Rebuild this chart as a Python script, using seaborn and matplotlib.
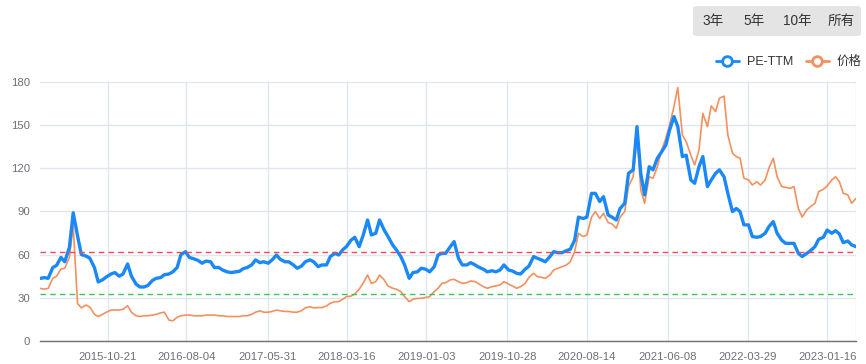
import matplotlib
matplotlib.use("Agg")
import matplotlib.pyplot as plt
from matplotlib.lines import Line2D
from matplotlib.patches import FancyBboxPatch
import seaborn as sns
import pandas as pd

# ---------------- data ----------------
dates = pd.date_range("2015-02-15", "2023-05-01", freq="SMS")

pe_ttm = [
    # 2015
    43.5, 44, 43.5, 51, 52.5, 58, 55, 65, 89, 73, 60, 59, 57.5, 51, 41, 42.5, 44.5, 46.5, 47.5, 45, 46.5,
    # 2016
    53.5, 45, 39.5, 37.5, 37.5, 38.5, 42, 43.5, 44, 46, 46.5, 48, 51, 60, 62, 58, 57, 56, 54, 55.5, 55, 51, 51, 49.3,
    # 2017
    48, 47.5, 48, 48.4, 50.2, 51, 52.8, 56.3, 54.4, 55, 54, 56.3, 59.7, 56.7, 55, 55, 52.8, 50.5, 52, 55, 56.3, 55, 51.6, 52.8,
    # 2018
    52.8, 58.6, 60.9, 59.7, 63.2, 65.5, 70, 72, 65.5, 73, 84, 73.6, 74.8, 84, 77, 72.5, 66.7, 63.2, 58.6, 52.8, 43.5, 47.5, 48, 50.5,
    # 2019
    49.8, 48, 51.6, 59.7, 60.9, 60.9, 65.5, 69, 57.4, 52.8, 52.8, 54.4, 52.8, 51.2, 49.8, 48, 48.8, 48, 49.3, 52.8, 49.3, 48.6, 47, 46.5,
    # 2020
    49.8, 52, 58.6, 57.4, 56.3, 55, 58.6, 62, 61.3, 61.3, 62.7, 63.7, 70, 86, 85, 86, 102.5, 102.5, 96.8, 100.2, 87.5, 86, 84, 92,
    # 2021
    95.6, 116.4, 118.8, 148.8, 116.4, 101.4, 121, 118.8, 126.9, 130.8, 136, 146.5, 155.8, 148.8, 128, 129, 111.8, 109.5, 121, 128, 107.2, 111.8, 116.4, 118.8,
    # 2022
    114, 102.5, 89.8, 92, 89.8, 80.6, 80.6, 72.5, 72, 72.5, 74.8, 79.4, 82.9, 74.8, 70, 67.8, 67.8, 67.8, 60.9, 58.6, 60.9, 62.7, 65.5, 70.6,
    # 2023
    72, 77, 74.8, 76.6, 74.3, 68.3, 69.4, 66.7, 65.5,
]

price = [
    # 2015
    36.5, 36, 36.5, 43.5, 45, 50, 50.5, 58, 80, 26, 23, 25, 23.5, 18.5, 17, 18.5, 20, 21.5, 21.5, 21.5, 22,
    # 2016
    24.5, 20, 17.5, 17, 17.5, 17.5, 18, 18.5, 19.5, 20, 14.5, 14, 16.5, 17.5, 18, 18, 17.5, 17.5, 17.5, 18, 18, 18, 17.5, 17.5,
    # 2017
    17, 17, 17, 17, 17.5, 17.5, 18.5, 20, 21, 20, 20, 20.5, 21.5, 21, 20.5, 20.5, 20, 20, 21, 23, 23.8, 23, 23.2, 23.2,
    # 2018
    24.3, 26.2, 27.3, 27.3, 28.9, 30.8, 31.2, 32.6, 35.9, 40, 45.8, 40, 41.2, 45.8, 42.4, 38.2, 36.6, 35.9, 34.3, 30.8, 27.3, 29, 29.6, 29.6,
    # 2019
    30.3, 30.8, 34.3, 36.6, 40, 40.5, 42.4, 42.8, 41.2, 40, 40.5, 41.7, 41.2, 39.6, 37.7, 36.6, 37.7, 38.2, 38.9, 41.2, 39.6, 38.2, 36.6, 37.7,
    # 2020
    40, 44.2, 47, 44.7, 44.2, 43.5, 45.8, 49.3, 50.5, 51.6, 52.8, 55, 62, 74.8, 72.5, 73.6, 86, 89.8, 85, 88.7, 82.2, 81.3, 78.2, 86,
    # 2021
    89.8, 107.2, 114, 143, 104.9, 95.6, 114, 113, 121, 131.5, 140.7, 150, 162.7, 176, 143, 138.4, 129, 122.2, 132.6, 158, 148.8, 163.2, 159.3, 168.5,
    # 2022
    170, 143, 130.3, 128, 126.9, 113, 111.8, 108.3, 110.6, 108.3, 111.8, 120, 126.9, 114, 107.2, 106.7, 106, 107.2, 92, 86, 91, 93.3, 95.6, 103.7,
    # 2023
    105.3, 107.6, 111.8, 114, 110.6, 102.5, 101.4, 95.6, 99,
]

tick_dates = ["2015-10-21", "2016-08-04", "2017-05-31", "2018-03-16", "2019-01-03",
              "2019-10-28", "2020-08-14", "2021-06-08", "2022-03-29", "2023-01-16"]
y_ticks = [0, 30, 60, 90, 120, 150, 180]
ref_high = 61.5
ref_low = 32.3
series_names = ["PE-TTM", "价格"]
range_buttons = ["3年", "5年", "10年", "所有"]

# ---------------- style ----------------
sns.set_theme(style="white")
plt.rcParams["font.family"] = ["Liberation Sans", "Noto Sans CJK SC", "DejaVu Sans"]

BLUE = "#1a88f7"
ORANGE = "#f2915f"
GRID = "#e0e6f1"
AXIS = "#6e7079"

W, H = 866, 364
fig = plt.figure(figsize=(W / 100, H / 100), dpi=100)
ax = fig.add_axes([40 / W, 23 / H, 816 / W, 259.3 / H])

df = pd.DataFrame({"date": dates, "pe": pe_ttm, "price": price})
sns.lineplot(data=df, x="date", y="price", ax=ax, color=ORANGE, linewidth=1.2, zorder=3)
sns.lineplot(data=df, x="date", y="pe", ax=ax, color=BLUE, linewidth=2.4, zorder=4)

ax.axhline(ref_high, color="#f5484f", linestyle=(0, (4, 3)), linewidth=1.0, zorder=5)
ax.axhline(ref_low, color="#3cc45a", linestyle=(0, (4, 3)), linewidth=1.0, zorder=5)

x_start = pd.Timestamp("2015-02-13")
x_end = pd.Timestamp("2023-05-01")
ax.set_xlim(x_start, x_end)
ax.set_ylim(0, 180)

tick_pos = [pd.Timestamp(d) for d in tick_dates] + [x_end]
ax.set_xticks(tick_pos)
ax.set_xticklabels(tick_dates + [""])
ax.set_yticks(y_ticks)
ax.set_yticklabels([str(v) for v in y_ticks])

ax.grid(True, color=GRID, linewidth=1.0, zorder=0)
ax.set_axisbelow(True)
for s in ["top", "right", "left"]:
    ax.spines[s].set_visible(False)
ax.spines["bottom"].set_color(AXIS)
ax.spines["bottom"].set_linewidth(1.0)
ax.tick_params(axis="x", colors=AXIS, length=5, width=1, direction="out", pad=3,
               labelsize=8.2, labelcolor=AXIS)
ax.tick_params(axis="y", length=0, pad=7, labelsize=8.2, labelcolor=AXIS)
ax.set_xlabel("")
ax.set_ylabel("")

# legend
handles = [
    Line2D([], [], color=BLUE, linewidth=2, marker="o", markersize=7,
           markerfacecolor="white", markeredgewidth=2),
    Line2D([], [], color=ORANGE, linewidth=2, marker="o", markersize=7,
           markerfacecolor="white", markeredgewidth=2),
]
fig.legend(handles, series_names, loc="center right", bbox_to_anchor=(873 / W, 1 - 62 / H),
           ncol=2, frameon=False, fontsize=9, handlelength=1.9, handletextpad=0.6,
           columnspacing=1.0, labelcolor="#333333")

# range buttons
box = FancyBboxPatch((693 / W, 1 - 36 / H), 168 / W, 30 / H,
                     boxstyle="round,pad=0,rounding_size=0.006",
                     transform=fig.transFigure, facecolor="#e4e4e4", edgecolor="none")
fig.patches.append(box)
for label, xc in zip(range_buttons, [713, 754, 797, 841]):
    fig.text(xc / W, 1 - 21 / H, label, ha="center", va="center", fontsize=9.8, color="#333333")

fig.savefig("out.png", dpi=100, facecolor="white")
